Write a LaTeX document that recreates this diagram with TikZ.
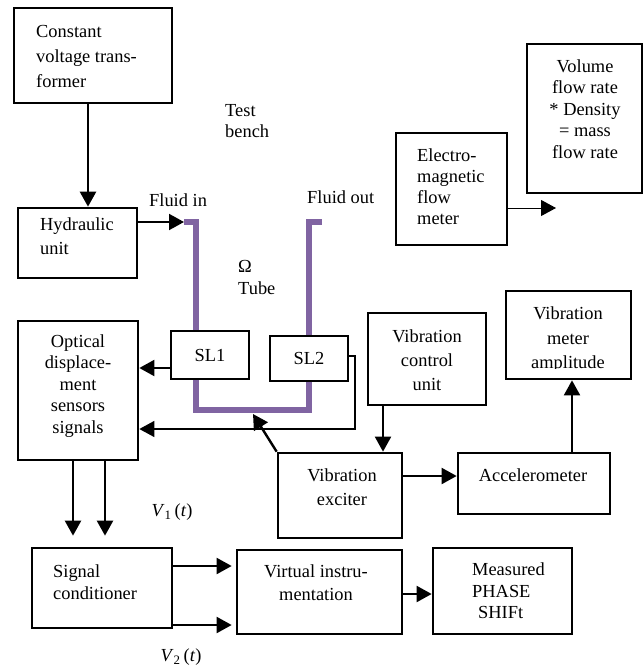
\documentclass[tikz,border=0pt]{standalone}
\usepackage{fontspec}
\setmainfont{Liberation Serif}
\usetikzlibrary{arrows.meta,calc}
\definecolor{tubecol}{HTML}{8064A2}
\begin{document}
\begin{tikzpicture}[x=1pt,y=-1pt,
  box/.style={draw,line width=2.7pt,fill=white,inner sep=0pt,font=\fontsize{18.4}{21.5}\selectfont},
  txt/.style={inner sep=0pt,font=\fontsize{18.4}{#1}\selectfont},
  txt/.default=21.5,
  arr/.style={line width=2pt,-{Triangle[length=15pt,width=16pt]}},
  thinarr/.style={line width=1.2pt,-{Triangle[length=15pt,width=16pt]}},
  tube/.style={line width=5.5pt,draw=tubecol}]
\useasboundingbox (0,0) rectangle (644,666);

% tube (drawn first, sensors cover it)
\coordinate (tin) at (184,222);
\coordinate (tb) at (253,414);
\draw[tube] (tin) -- (196,222) -- (196,410) -- (309,410) -- (309,222) -- (322,222);

% boxes
\node[box,minimum width=158pt,minimum height=95pt] (cvt) at (93,55.5) {};
\node[box,minimum width=119pt,minimum height=70pt] (hyd) at (77.5,243) {};
\node[box,minimum width=111pt,minimum height=112pt] (emf) at (451.5,189) {};
\node[box,minimum width=115pt,minimum height=149pt] (vol) at (584.5,118.5) {};
\node[box,minimum width=78pt,minimum height=48pt] (sl1) at (210,355) {SL1};
\node[box,minimum width=78pt,minimum height=45pt] (sl2) at (309,358.5) {SL2};
\node[box,minimum width=120pt,minimum height=139pt] (opt) at (78,390.5) {};
\node[box,minimum width=118pt,minimum height=92pt] (vcu) at (427,359) {};
\node[box,minimum width=125pt,minimum height=88pt] (vma) at (568.5,335) {};
\node[box,minimum width=124pt,minimum height=85pt] (exc) at (340,495.5) {};
\node[box,minimum width=152pt,minimum height=61pt] (acc) at (534,483.5) {};
\node[box,minimum width=140pt,minimum height=80pt] (sig) at (102,588) {};
\node[box,minimum width=165pt,minimum height=84pt] (vir) at (319.5,592) {};
\node[box,minimum width=139pt,minimum height=86pt] (mea) at (502.5,591) {};

% texts
\node[txt=25,anchor=west,align=left] (tcvt) at (36,56) {Constant\\voltage trans-\\former};
\node[txt=21,anchor=west,align=left] (ttest) at (225,121) {Test\\bench};
\node[txt,anchor=west] (tfin) at (149,200) {Fluid in};
\node[txt=24,anchor=west,align=left] (thyd) at (40,236) {Hydraulic\\unit};
\node[txt,anchor=west] (tfout) at (307,197) {Fluid out};
\node[txt=21,anchor=west,align=left] (temf) at (417,187) {Electro-\\magnetic\\flow\\meter};
\node[txt,align=center] (tvol) at (585,109) {Volume\\flow rate\\* Density\\= mass\\flow rate};
\node[txt=22,anchor=west,align=left] (ttube) at (238,277) {Ω\\Tube};
\node[txt,align=center] (topt) at (78,386) {Optical\\displace-\\ment\\sensors\\signals};
\node[txt=24,align=center] (tvcu) at (427,360) {Vibration\\control\\unit};
\begin{scope}
  \clip (506,291) rectangle (631,368);
  \node[txt=24.5,align=center] (tvma) at (568,340) {Vibration\\meter\\amplitude};
\end{scope}
\node[txt=24.5,align=center] (texc) at (342,487) {Vibration\\exciter};
\node[txt] (tacc) at (533,475) {Accelerometer};
\node[txt=22,anchor=west,align=left] (tsig) at (53,582) {Signal\\conditioner};
\node[txt=23,align=center] (tvir) at (316,583) {Virtual instru-\\mentation};
\node[txt=21.5,anchor=west,align=left] (tmea) at (472,591) {Measured\\PHASE\\\hspace*{6pt}SHIFt};
\node[txt] (tv1) at (172,512) {\textit{V}\textsubscript{1}\,(\textit{t})};
\node[txt] (tv2) at (181,657) {\textit{V}\textsubscript{2}\,(\textit{t})};

% connector anchor points
\coordinate (emfout) at (556,208);
\coordinate (w1) at (355,429);
\coordinate (c1) at ([xshift=-5pt]cvt.south);
\coordinate (h1) at ([yshift=21pt]hyd.east);
\coordinate (e1) at ([yshift=-19pt]emf.east);
\coordinate (s1) at ([yshift=-13pt]sl1.west);
\coordinate (s2) at ([yshift=2.5pt]sl2.east);
\coordinate (v1) at ([xshift=-44pt]vcu.south);
\coordinate (x1) at ([yshift=19.5pt]exc.east);
\coordinate (a1) at ([xshift=38pt]acc.north);
\coordinate (o1) at ([xshift=-5pt]opt.south);
\coordinate (o2) at ([xshift=27pt]opt.south);
\coordinate (g1) at ([yshift=22pt]sig.east);
\coordinate (g2) at ([yshift=-37pt]sig.east);
\coordinate (r1) at ([yshift=-2pt]vir.east);

% connectors
\draw[arr,line width=2.6pt] (c1) -- (c1 |- hyd.north);
\draw[arr] (h1) -- (tin);
\draw[thinarr,line width=1pt] (e1) -- (emfout);
\draw[arr] (s1) -- (opt.east |- s1);
\draw[thinarr] (s2) -| (w1) -- (opt.east |- w1);
\draw[arr,line width=2.4pt] (exc.north west) -- (tb);
\draw[arr] (v1) -- (v1 |- exc.north);
\draw[arr] (x1) -- (acc.west |- x1);
\draw[arr] (a1) -- (a1 |- vma.south);
\draw[arr,line width=2.4pt,shorten >=11pt] (o1) -- (o1 |- sig.north);
\draw[arr,line width=2.4pt,shorten >=11pt] (o2) -- (o2 |- sig.north);
\draw[arr,shorten >=4pt] (g1) -- (vir.west |- g1);
\draw[arr,shorten >=4pt] (g2) -- (vir.west |- g2);
\draw[arr] (r1) -- (mea.west |- r1);
\end{tikzpicture}
\end{document}
